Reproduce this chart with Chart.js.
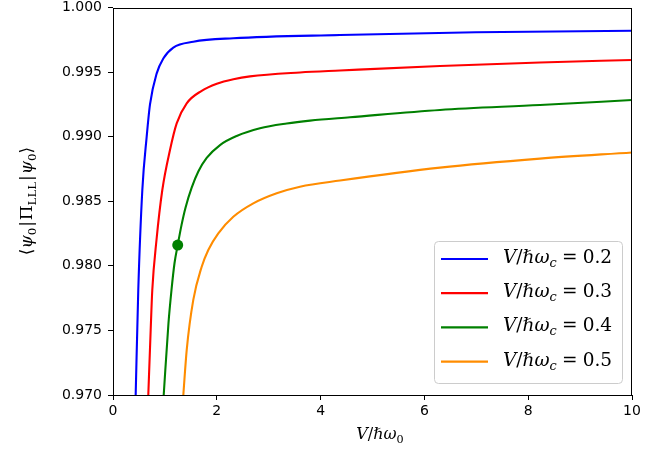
<!DOCTYPE html>
<html>
<head>
<meta charset="utf-8">
<script src="https://cdn.jsdelivr.net/npm/chart.js@4.4.0/dist/chart.umd.min.js"></script>
<style>
  html, body { margin: 0; padding: 0; background: #fff; }
</style>
</head>
<body>
<canvas id="myChart" width="667" height="453"></canvas>
<script>
// Дані (x = V/ħω0, y = перекриття)
var blueX = [0.437, 0.487, 0.565, 0.649, 0.713, 0.842, 0.969, 1.162, 1.547, 2.318, 4.374, 6.994, 10];
var blueY = [0.9700, 0.97813, 0.98587, 0.99000, 0.99250, 0.99490, 0.99605, 0.99690, 0.99735, 0.99762, 0.99787, 0.99808, 0.99820];

var redX = [0.680, 0.726, 0.757, 0.838, 0.950, 1.098, 1.227, 1.420, 1.709, 2.000, 2.320, 2.640, 3.603, 4.374, 6.301, 8.227, 10];
var redY = [0.9700, 0.97503, 0.97813, 0.98200, 0.98587, 0.98897, 0.99103, 0.99258, 0.99355, 0.99410, 0.99445, 0.99467, 0.99497, 0.99512, 0.99547, 0.99574, 0.99594];

var greenX = [0.977, 1.069, 1.127, 1.185, 1.247, 1.320, 1.397, 1.516, 1.644, 1.805, 2.062, 2.383, 2.832, 3.347, 3.796, 4.566, 6.30, 8.227, 10];
var greenY = [0.9700, 0.97557, 0.97813, 0.98020, 0.98161, 0.98315, 0.98450, 0.98605, 0.98730, 0.98835, 0.98935, 0.99005, 0.99065, 0.99102, 0.99124, 0.99150, 0.99207, 0.99245, 0.99284];

var orangeX = [1.355, 1.420, 1.547, 1.709, 1.836, 2.029, 2.318, 2.703, 3.154, 3.603, 4.374, 6.301, 8.227, 10];
var orangeY = [0.9700, 0.97348, 0.97736, 0.97993, 0.98123, 0.98252, 0.98380, 0.98484, 0.98562, 0.98613, 0.98660, 0.98760, 0.98830, 0.98878];

// точка на зеленій кривій
var dotX = [1.247];
var dotY = [0.98161];

var seriesValues = ['0.2', '0.3', '0.4', '0.5'];
var seriesColors = ['#0000ff', '#ff0000', '#008000', '#ff8c00'];

var MATH_FONT = '"DejaVu Serif"';

function toPoints(xs, ys) {
    return xs.map(function (x, i) { return { x: x, y: ys[i] }; });
}

// Малюємо "формулу" кусочками: курсив, індекси і т.д.
function partFont(p, size) {
    var s = p.sub ? size * 0.7 : size;
    return (p.i ? 'italic ' : '') + s.toFixed(1) + 'px ' + MATH_FONT;
}
function mathWidth(ctx, parts, size) {
    var w = 0;
    parts.forEach(function (p) {
        ctx.font = partFont(p, size);
        w += (p.l || 0) * size + ctx.measureText(p.t).width + (p.r || 0) * size;
    });
    return w;
}
function drawMath(ctx, parts, x, y, size, align) {
    var w = mathWidth(ctx, parts, size);
    var cx = align === 'center' ? x - w / 2 : x;
    ctx.textBaseline = 'alphabetic';
    ctx.textAlign = 'left';
    parts.forEach(function (p) {
        ctx.font = partFont(p, size);
        cx += (p.l || 0) * size;
        ctx.fillText(p.t, cx, y + (p.sub ? size * 0.22 : 0));
        cx += ctx.measureText(p.t).width + (p.r || 0) * size;
    });
}

var xLabelParts = [
    { t: 'V', i: 1 }, { t: '/' }, { t: 'ℏ' }, { t: 'ω', i: 1 }, { t: '0', sub: 1 }
];
var yLabelParts = [
    { t: '⟨' }, { t: 'ψ', i: 1 }, { t: '0', sub: 1 }, { t: '|', l: 0.05, r: 0.05 }, { t: 'Π' },
    { t: 'LLL', sub: 1 }, { t: '|', l: 0.05, r: 0.05 }, { t: 'ψ', i: 1 }, { t: '0', sub: 1 }, { t: '⟩' }
];
function legendParts(v) {
    return [
        { t: 'V', i: 1 }, { t: '/' }, { t: 'ℏ' }, { t: 'ω', i: 1 }, { t: 'c', i: 1, sub: 1 },
        { t: '=', l: 0.28, r: 0.28 }, { t: v }
    ];
}

var decorPlugin = {
    id: 'decor',
    afterDraw: function (chart) {
        var ctx = chart.ctx;
        var a = chart.chartArea;
        ctx.save();

        // рамка навколо графіка
        ctx.strokeStyle = '#000';
        ctx.lineWidth = 1;
        ctx.strokeRect(Math.round(a.left) + 0.5, Math.round(a.top) + 0.5,
            Math.round(a.right - a.left) - 1, Math.round(a.bottom - a.top) - 1);

        ctx.fillStyle = '#000';
        // підпис осі X
        drawMath(ctx, xLabelParts, 380, 439, 16, 'center');

        // підпис осі Y (повернутий)
        ctx.save();
        ctx.translate(32, 201);
        ctx.rotate(-Math.PI / 2);
        drawMath(ctx, yLabelParts, 0, 0, 17, 'center');
        ctx.restore();

        // легенда
        var bx = 434, by = 241, bw = 188, bh = 142;
        ctx.fillStyle = 'rgba(255,255,255,0.8)';
        ctx.strokeStyle = '#cccccc';
        ctx.lineWidth = 1;
        ctx.beginPath();
        ctx.roundRect(bx + 0.5, by + 0.5, bw, bh, 4);
        ctx.fill();
        ctx.stroke();

        for (var k = 0; k < seriesValues.length; k++) {
            var ry = 259 + k * 34.2;
            ctx.strokeStyle = seriesColors[k];
            ctx.lineWidth = 2.2;
            ctx.beginPath();
            ctx.moveTo(441, ry);
            ctx.lineTo(488, ry);
            ctx.stroke();
            ctx.fillStyle = '#000';
            drawMath(ctx, legendParts(seriesValues[k]), 503, ry + 4, 18.5, 'left');
        }
        ctx.restore();
    }
};

var datasets = [
    { data: toPoints(blueX, blueY), borderColor: seriesColors[0] },
    { data: toPoints(redX, redY), borderColor: seriesColors[1] },
    { data: toPoints(greenX, greenY), borderColor: seriesColors[2] },
    { data: toPoints(orangeX, orangeY), borderColor: seriesColors[3] }
].map(function (d) {
    d.showLine = true;
    d.borderWidth = 2.1;
    d.pointRadius = 0;
    d.cubicInterpolationMode = 'monotone';
    d.fill = false;
    return d;
});
datasets.push({
    data: toPoints(dotX, dotY),
    showLine: false,
    pointRadius: 5.5,
    pointBackgroundColor: seriesColors[2],
    pointBorderColor: seriesColors[2],
    pointBorderWidth: 0
});

var tickFont = { family: '"DejaVu Sans"', size: 14 };

var ctx = document.getElementById('myChart').getContext('2d');
var myChart = new Chart(ctx, {
    type: 'scatter',
    data: { datasets: datasets },
    options: {
        responsive: false,
        animation: false,
        devicePixelRatio: 1,
        layout: { padding: { top: 7.5, right: 35, bottom: 0, left: 0 } },
        plugins: { legend: { display: false }, tooltip: { enabled: false } },
        scales: {
            x: {
                type: 'linear',
                min: 0, max: 10,
                border: { display: false },
                grid: { drawOnChartArea: false, tickLength: 5, color: '#000' },
                ticks: { stepSize: 2, color: '#000', font: tickFont, padding: 3, maxRotation: 0 },
                afterFit: function (s) { s.height = 58; s.paddingLeft = 0; s.paddingRight = 0; }
            },
            y: {
                min: 0.97, max: 1.0,
                border: { display: false },
                grid: { drawOnChartArea: false, tickLength: 5, color: '#000' },
                ticks: {
                    stepSize: 0.005, color: '#000', font: tickFont, padding: 6,
                    callback: function (v) { return v.toFixed(3); }
                },
                afterFit: function (s) { s.width = 113; s.paddingTop = 0; s.paddingBottom = 0; }
            }
        }
    },
    plugins: [decorPlugin]
});
</script>
</body>
</html>
